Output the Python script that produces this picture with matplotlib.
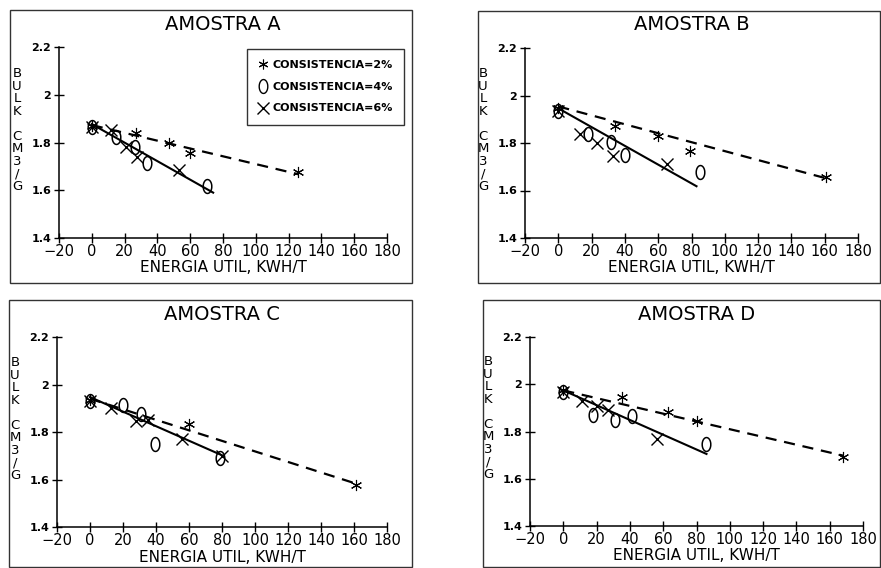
import numpy as np
import matplotlib
matplotlib.use("Agg")
import matplotlib.pyplot as plt
from matplotlib.patches import Rectangle
from matplotlib.lines import Line2D

plt.rcParams['font.family'] = ['DejaVu Sans']

W, H = 881, 568

# ---- data (energia util kWh/t  vs  bulk cm3/g) ----
panels = ['AMOSTRA A', 'AMOSTRA B', 'AMOSTRA C', 'AMOSTRA D']

a_x2 = [0, 27, 47, 60, 126]
a_y2 = [1.87, 1.84, 1.80, 1.755, 1.678]
a_x4 = [0, 15, 26.6, 33.7, 70]
a_y4 = [1.865, 1.824, 1.782, 1.713, 1.617]
a_x6 = [0, 12, 21, 27.6, 53]
a_y6 = [1.865, 1.852, 1.78, 1.741, 1.685]
a_dash_x, a_dash_y = [0, 126], [1.873, 1.667]
a_line_x, a_line_y = [0, 74], [1.877, 1.59]

b_x2 = [0, 34, 60, 79, 161]
b_y2 = [1.946, 1.872, 1.83, 1.768, 1.658]
b_x4 = [0, 18, 31.5, 40, 85]
b_y4 = [1.935, 1.84, 1.805, 1.75, 1.68]
b_x6 = [0, 13, 23, 33, 65.5]
b_y6 = [1.935, 1.84, 1.80, 1.745, 1.71]
b_dash_x, b_dash_y = [0, 161], [1.954, 1.651]
b_line_x, b_line_y = [0, 83], [1.946, 1.618]

c_x2 = [0, 60, 161.5]
c_y2 = [1.933, 1.835, 1.575]
c_x4 = [0, 20, 31, 39.5, 79]
c_y4 = [1.93, 1.915, 1.877, 1.748, 1.692]
c_x6 = [0, 12.6, 28, 35, 56, 80]
c_y6 = [1.93, 1.90, 1.846, 1.85, 1.772, 1.70]
c_dash_x, c_dash_y = [0, 161.5], [1.94, 1.582]
c_line_x, c_line_y = [0, 80], [1.947, 1.702]

d_x2 = [0, 35, 63, 80.6, 168]
d_y2 = [1.977, 1.944, 1.882, 1.844, 1.694]
d_x4 = [0, 18, 31, 41, 86]
d_y4 = [1.967, 1.87, 1.85, 1.866, 1.748]
d_x6 = [0, 11.4, 20, 27, 56]
d_y6 = [1.967, 1.93, 1.906, 1.89, 1.769]
d_dash_x, d_dash_y = [0, 168], [1.974, 1.698]
d_line_x, d_line_y = [0, 86], [1.974, 1.705]

series = [
    (a_x2, a_y2, a_x4, a_y4, a_x6, a_y6, a_dash_x, a_dash_y, a_line_x, a_line_y),
    (b_x2, b_y2, b_x4, b_y4, b_x6, b_y6, b_dash_x, b_dash_y, b_line_x, b_line_y),
    (c_x2, c_y2, c_x4, c_y4, c_x6, c_y6, c_dash_x, c_dash_y, c_line_x, c_line_y),
    (d_x2, d_y2, d_x4, d_y4, d_x6, d_y6, d_dash_x, d_dash_y, d_line_x, d_line_y),
]
legend_labels = ['CONSISTENCIA=2%', 'CONSISTENCIA=4%', 'CONSISTENCIA=6%']
x_ticks = [-20, 0, 20, 40, 60, 80, 100, 120, 140, 160, 180]
y_ticks = [1.4, 1.6, 1.8, 2.0, 2.2]

# axes boxes in pixels: (left, right, top, bottom)
axes_px = [(59, 387, 47, 238), (525, 858, 48, 238),
           (57, 387, 337, 527), (530, 863, 337, 526)]
# outer frames in pixels: (left, right, top, bottom)
frames_px = [(10, 412, 10, 283), (478, 880, 11, 283),
             (9, 412, 300, 567), (483, 880, 300, 567)]

# markers
t = np.linspace(0, 2 * np.pi, 40)
oval = list(zip(0.62 * np.cos(t), np.sin(t)))
star = (6, 2, 0)

fig = plt.figure(figsize=(W / 100, H / 100), dpi=100)

for (l, r, tp, b) in frames_px:
    fig.add_artist(Rectangle((l / W, 1 - b / H), (r - l) / W, (b - tp) / H,
                             transform=fig.transFigure, fill=False,
                             edgecolor='#333333', linewidth=1.0))

for i, (name, s) in enumerate(zip(panels, series)):
    l, r, tp, b = axes_px[i]
    ax = fig.add_axes([l / W, 1 - b / H, (r - l) / W, (b - tp) / H])
    x2, y2, x4, y4, x6, y6, dx, dy, lx, ly = s

    ax.plot(dx, dy, color='black', lw=1.6, ls=(0, (5, 3.5)))
    ax.plot(lx, ly, color='black', lw=1.5)
    ax.plot(x2, y2, ls='none', marker=star, ms=8, mew=0.8, color='black')
    ax.plot(x4, y4, ls='none', marker=oval, ms=10, mew=1.1, mfc='none', color='black')
    ax.plot(x6, y6, ls='none', marker='x', ms=8, mew=1.0, color='black')

    ax.set_xlim(-20, 180)
    ax.set_ylim(1.4, 2.2)
    ax.set_xticks(x_ticks)
    ax.set_yticks(y_ticks)
    ax.set_xticklabels([str(v).replace('-', '\u2212') for v in x_ticks], fontsize=10.5)
    ax.set_yticklabels(['%g' % v for v in y_ticks], fontsize=8, fontweight='bold')
    ax.tick_params(axis='x', direction='inout', length=7, width=1, pad=1)
    ax.tick_params(axis='y', direction='inout', length=7, width=1, pad=2)
    for sp in ['top', 'right']:
        ax.spines[sp].set_visible(False)
    for sp in ['left', 'bottom']:
        ax.spines[sp].set_linewidth(1.1)
    ax.patch.set_alpha(0)

    hgt = b - tp
    wid = r - l
    ax.text(0.5, 1 + 23 / hgt, name, transform=ax.transAxes,
            ha='center', va='center', fontsize=14)
    ax.text(0.5, -30 / hgt, 'ENERGIA UTIL, KWH/T', transform=ax.transAxes,
            ha='center', va='center', fontsize=11)
    ax.text(-42 / wid, 108 / hgt, 'B\nU\nL\nK\n\nC\nM\n3\n/\nG', transform=ax.transAxes,
            ha='center', va='center', fontsize=9.5, linespacing=0.95)

    if i == 0:
        handles = [Line2D([], [], ls='none', marker=star, ms=7, mew=0.8, color='black'),
                   Line2D([], [], ls='none', marker=oval, ms=10, mfc='none', color='black'),
                   Line2D([], [], ls='none', marker='x', ms=8, color='black')]
        leg = ax.legend(handles, legend_labels, loc='upper left',
                        bbox_to_anchor=((247 - l) / wid, (b - 49) / hgt),
                        frameon=True, fancybox=False, edgecolor='black',
                        prop={'size': 8, 'weight': 'bold'},
                        handlelength=0.8, handletextpad=0.5, labelspacing=1.05,
                        borderpad=1.0, borderaxespad=0)
        leg.get_frame().set_linewidth(1.0)

fig.savefig('out.png', dpi=100)
